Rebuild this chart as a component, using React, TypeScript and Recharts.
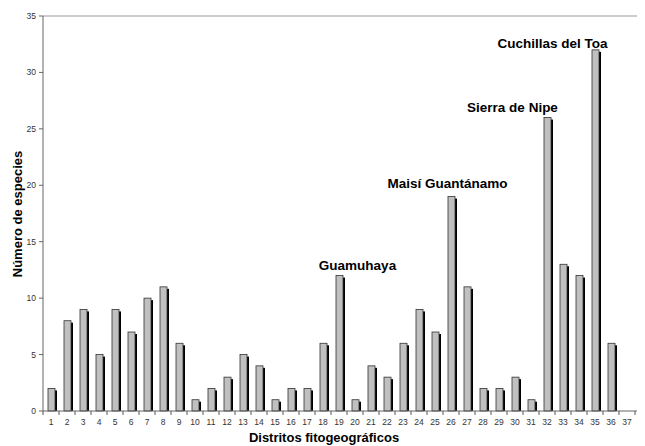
import React from 'react';
import { Bar, BarChart, LabelList, ReferenceLine, XAxis, YAxis } from 'recharts';

// Species count per phytogeographic district
const districts = [
  '1', '2', '3', '4', '5', '6', '7', '8', '9', '10',
  '11', '12', '13', '14', '15', '16', '17', '18', '19', '20',
  '21', '22', '23', '24', '25', '26', '27', '28', '29', '30',
  '31', '32', '33', '34', '35', '36', '37', '38',
];
const species = [
  2, 8, 9, 5, 9, 7, 10, 11, 6, 1,
  2, 3, 5, 4, 1, 2, 2, 6, 12, 1,
  4, 3, 6, 9, 7, 19, 11, 2, 2, 3,
  1, 26, 13, 12, 32, 6, 0, 0,
];
const yTicks = [0, 5, 10, 15, 20, 25, 30, 35];

// named districts shown above their bars
const highlightDistricts = ['19', '26', '32', '35'];
const highlightNames = ['Guamuhaya', 'Maisí Guantánamo', 'Sierra de Nipe', 'Cuchillas del Toa'];

// label nudges (dx, dy) relative to the bar top, in px
const labelOffsets: Record<string, [number, number]> = {
  Guamuhaya: [18, -6],
  'Maisí Guantánamo': [-4, -9],
  'Sierra de Nipe': [-35, -6],
  'Cuchillas del Toa': [-43, -2],
};

const data = districts.map((d, i) => {
  const h = highlightDistricts.indexOf(d);
  return { name: d, value: species[i], label: h >= 0 ? highlightNames[h] : '' };
});

const FONT = '"Liberation Sans", Arial, sans-serif';
const W = 670;
const H = 446;
const MARGIN = { top: 16, right: 19, bottom: 15, left: 0 };
const Y_AXIS_W = 43;
const X_AXIS_H = 20;
const PLOT_BOTTOM = H - MARGIN.bottom - X_AXIS_H;
const BAND = (W - MARGIN.left - MARGIN.right - Y_AXIS_W) / districts.length;

const ShadowBar = (props: any) => {
  const { x, y, width, height } = props;
  if (!height || height <= 0) return null;
  return (
    <g>
      <rect x={x + 2} y={y + 2} width={width} height={height - 2} fill="#000" />
      <rect x={x} y={y} width={width} height={height} fill="#c0c0c0" stroke="#333" strokeWidth={0.8} />
    </g>
  );
};

const XTick = (props: any) => {
  const { x, payload } = props;
  return (
    <g>
      <line x1={x - BAND / 2} x2={x - BAND / 2} y1={PLOT_BOTTOM} y2={PLOT_BOTTOM + 4} stroke="#555" />
      <text x={x} y={PLOT_BOTTOM + 14} textAnchor="middle" fontSize={8.5} fill="#333" fontFamily={FONT}>
        {payload.value}
      </text>
    </g>
  );
};

const DistrictLabel = (props: any) => {
  const { x, y, width, value } = props;
  if (!value) return null;
  const [dx, dy] = labelOffsets[value] || [0, -4];
  return (
    <text
      x={x + width / 2 + dx}
      y={y + dy}
      textAnchor="middle"
      fontSize={13.5}
      fontWeight="bold"
      fill="#000"
      fontFamily={FONT}
    >
      {value}
    </text>
  );
};

export default function App() {
  return (
    <div style={{ marginLeft: -8, marginTop: -8, width: 645, height: 446, overflow: 'hidden', background: '#fff' }}>
      <BarChart width={W} height={H} data={data} margin={MARGIN}>
        <ReferenceLine y={35} stroke="#999" />
        <XAxis
          dataKey="name"
          interval={0}
          height={X_AXIS_H}
          tickLine={false}
          stroke="#666"
          tick={<XTick />}
          label={{
            content: () => (
              <text x={324} y={442} textAnchor="middle" fontSize={13} fontWeight="bold" fill="#000" fontFamily={FONT}>
                Distritos fitogeográficos
              </text>
            ),
          }}
        />
        <YAxis
          width={Y_AXIS_W}
          domain={[0, 35]}
          ticks={yTicks}
          tickSize={4}
          tickMargin={3}
          stroke="#666"
          tick={{ fontSize: 8.5, fill: '#333', fontFamily: FONT }}
          label={{
            content: () => (
              <text
                x={22}
                y={214}
                transform="rotate(-90, 22, 214)"
                textAnchor="middle"
                fontSize={13}
                fontWeight="bold"
                fill="#000"
                fontFamily={FONT}
              >
                Número de especies
              </text>
            ),
          }}
        />
        <Bar dataKey="value" barSize={7} shape={ShadowBar} isAnimationActive={false}>
          <LabelList dataKey="label" content={DistrictLabel} />
        </Bar>
      </BarChart>
    </div>
  );
}
